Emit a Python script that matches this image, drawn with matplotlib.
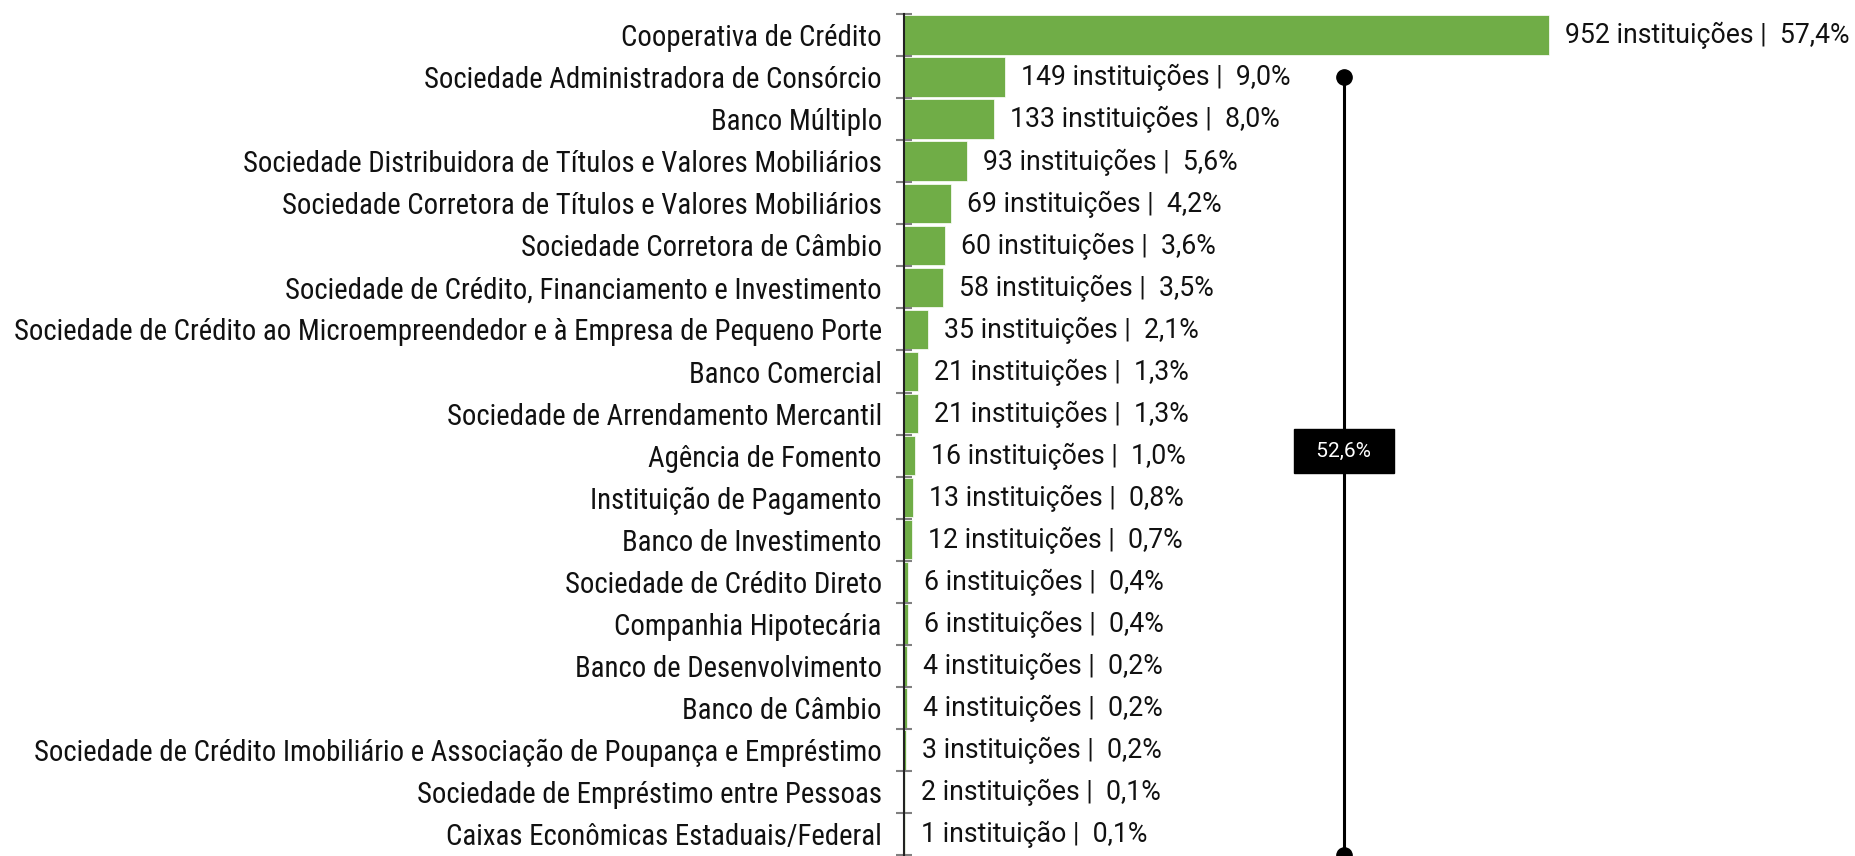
import matplotlib
matplotlib.use("Agg")
import matplotlib.pyplot as plt
from matplotlib import font_manager as fm

categories = [
    "Cooperativa de Crédito",
    "Sociedade Administradora de Consórcio",
    "Banco Múltiplo",
    "Sociedade Distribuidora de Títulos e Valores Mobiliários",
    "Sociedade Corretora de Títulos e Valores Mobiliários",
    "Sociedade Corretora de Câmbio",
    "Sociedade de Crédito, Financiamento e Investimento",
    "Sociedade de Crédito ao Microempreendedor e à Empresa de Pequeno Porte",
    "Banco Comercial",
    "Sociedade de Arrendamento Mercantil",
    "Agência de Fomento",
    "Instituição de Pagamento",
    "Banco de Investimento",
    "Sociedade de Crédito Direto",
    "Companhia Hipotecária",
    "Banco de Desenvolvimento",
    "Banco de Câmbio",
    "Sociedade de Crédito Imobiliário e Associação de Poupança e Empréstimo",
    "Sociedade de Empréstimo entre Pessoas",
    "Caixas Econômicas Estaduais/Federal",
]
counts = [952, 149, 133, 93, 69, 60, 58, 35, 21, 21, 16, 13, 12, 6, 6, 4, 4, 3, 2, 1]
shares = ["57,4%", "9,0%", "8,0%", "5,6%", "4,2%", "3,6%", "3,5%", "2,1%", "1,3%", "1,3%",
          "1,0%", "0,8%", "0,7%", "0,4%", "0,4%", "0,2%", "0,2%", "0,2%", "0,1%", "0,1%"]
bracket_label = "52,6%"

GREEN = "#70AD47"


def narrow_font():
    # look for a condensed / narrow regular face, else fall back to Roboto
    prefs = ["LiberationSansNarrow-Regular", "RobotoCondensed-Regular",
             "DejaVuSansCondensed.ttf", "NotoSans-Condensed", "OpenSans_Condensed-Regular"]
    files = [f.fname for f in fm.fontManager.ttflist]
    for p in prefs:
        for fn in files:
            if p in fn:
                return fm.FontProperties(fname=fn)
    for fn in files:
        low = fn.lower()
        if ("condensed" in low or "narrow" in low) and "bold" not in low \
                and "italic" not in low and "oblique" not in low:
            return fm.FontProperties(fname=fn)
    return fm.FontProperties(family="Roboto")


def main() -> None:
    fig = plt.figure(figsize=(18.56, 8.56), dpi=100)
    ax = fig.add_axes([0.4871, 0.001, 0.5129, 0.9826])

    y = list(range(len(categories)))
    ax.barh(y, counts, height=0.94, color=GREEN, edgecolor="white", linewidth=0.5)

    ax.set_xlim(0, 1405)
    ax.set_ylim(len(categories) - 0.5, -0.5)

    # value labels
    for i, (c, s) in enumerate(zip(counts, shares)):
        word = "instituição" if c == 1 else "instituições"
        ax.annotate(f"{c} {word} |  {s}", xy=(c, i), xytext=(11.5, -0.5),
                    textcoords="offset points", va="center", ha="left",
                    fontsize=19.2, family="Roboto", color="#111111")

    # category labels: fit the longest one into ~866 px
    cat_fp = narrow_font()
    cat_fp.set_size(22)
    renderer = fig.canvas.get_renderer()
    longest = max(categories, key=len)
    probe = fig.text(0, 0, longest, fontproperties=cat_fp)
    w = probe.get_window_extent(renderer).width
    probe.remove()
    if w > 866:
        cat_fp.set_size(22 * 866 / w)

    ax.set_yticks(y)
    ax.set_yticklabels(categories, fontproperties=cat_fp, color="#111111")
    ax.set_yticks([i - 0.5 for i in range(len(categories) + 1)], minor=True)
    ax.tick_params(axis="y", which="major", length=0, pad=16)
    ax.tick_params(axis="y", which="minor", length=11, width=1.5,
                   direction="inout", color="#808080")
    ax.set_xticks([])

    for side in ["top", "right", "bottom"]:
        ax.spines[side].set_visible(False)
    ax.spines["left"].set_color("#222222")
    ax.spines["left"].set_linewidth(1.5)

    # bracket line with dots and the black label box
    bx = 649
    ax.plot([bx, bx], [1, len(categories) - 0.5], color="black", lw=2.2,
            marker="o", markersize=11, clip_on=False, zorder=3)
    ax.text(bx, 9.9, f"  {bracket_label}  ", ha="center", va="center",
            fontsize=15, family="Roboto", color="white", zorder=4,
            bbox=dict(boxstyle="square,pad=0.6", facecolor="black", edgecolor="black"))

    fig.savefig("out.png", dpi=100)


if __name__ == "__main__":
    main()
